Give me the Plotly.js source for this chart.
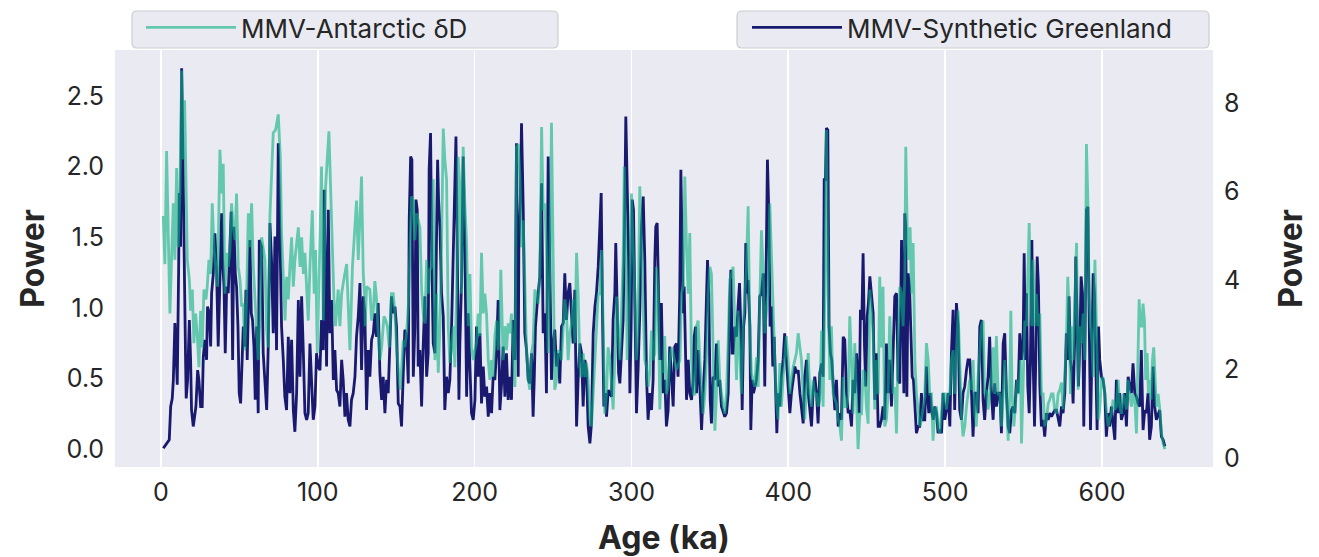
<!DOCTYPE html>
<html>
<head>
<meta charset="utf-8">
<script src="https://cdn.plot.ly/plotly-3.0.1.min.js"></script>
<style>html,body{margin:0;padding:0;background:#fff;}#chart{width:1319px;height:557px;}</style>
</head>
<body>
<div id="chart"></div>
<script>
// ---- Data ----
const antName = "MMV-Antarctic δD";
const grnName = "MMV-Synthetic Greenland";
const xTicks = [0, 100, 200, 300, 400, 500, 600];
const yLeftTicks = [0.0, 0.5, 1.0, 1.5, 2.0, 2.5];
const yRightTicks = [0, 2, 4, 6, 8];

const antAge = [1.5,2.5,3.6,4.7,5.7,7.0,7.9,8.9,10.0,11.0,12.1,13.2,14.2,15.1,15.9,16.8,18.1,18.9,20.0,21.0,22.1,23.2,24.2,25.3,26.3,27.4,28.7,29.5,30.6,31.7,32.7,33.8,34.8,36.1,37.6,38.7,39.7,40.8,41.9,42.9,44.0,45.0,46.1,47.2,48.2,49.3,50.4,51.4,52.5,53.5,54.6,55.7,56.7,57.8,58.9,59.9,61.0,62.0,63.1,
64.2,66.3,67.4,68.4,69.5,71.6,73.1,74.8,76.1,76.9,79.1,80.1,81.2,82.2,83.3,84.4,85.4,87.6,88.7,89.7,90.8,91.8,93.9,95.0,96.5,97.7,98.6,99.7,100.9,102.4,103.5,105.0,107.1,108.8,110.3,111.3,113.0,114.1,115.2,116.9,118.4,120.5,122.1,124.7,125.8,127.9,129.0,130.0,
130.2,131.1,133.2,134.3,135.4,136.4,137.5,138.5,139.6,140.7,142.2,143.4,144.3,145.6,147.0,148.1,149.2,150.2,151.3,152.4,153.4,154.5,155.5,156.6,157.7,158.7,159.8,160.9,161.9,163.0,164.0,165.1,166.2,167.2,168.3,169.4,170.4,171.5,172.5,173.6,174.7,175.7,176.8,177.9,178.9,180.0,181.0,182.1,183.2,184.2,185.3,186.4,187.4,188.5,189.5,190.6,191.7,192.7,193.8,194.9,195.9,197.0,
198.0,199.1,200.2,201.2,202.3,203.4,204.4,205.5,206.5,207.6,208.7,209.7,210.8,211.8,212.9,214.0,215.0,216.1,216.7,217.6,218.2,219.3,220.3,221.4,222.5,223.5,224.6,225.7,226.7,227.8,228.9,229.9,231.0,232.0,233.1,234.2,235.2,236.3,237.3,238.4,239.5,240.5,241.6,242.7,243.7,244.8,245.8,246.9,248.0,249.0,250.1,251.1,252.2,253.3,254.3,255.4,256.5,257.5,258.6,259.6,260.7,261.8,262.8,263.9,
265.0,266.0,267.1,268.2,269.2,270.3,271.3,272.4,273.5,274.5,275.6,276.7,277.7,278.8,279.8,280.9,282.0,283.0,284.1,285.1,286.2,287.3,288.3,289.4,290.5,291.5,292.6,293.6,294.7,295.4,296.4,297.3,297.9,299.0,300.0,301.1,302.2,303.2,304.3,305.3,306.4,307.5,308.5,309.6,310.6,311.7,312.8,313.8,314.9,315.9,317.0,318.1,319.1,320.2,321.2,322.3,323.4,324.4,325.5,326.5,328.7,330.9,
331.9,333.0,334.0,335.1,336.2,337.2,338.3,339.4,340.4,341.5,342.5,343.6,344.7,345.7,346.8,347.8,348.9,350.0,351.0,352.1,353.2,354.2,355.3,356.3,357.4,358.5,359.5,360.6,361.7,362.7,363.8,364.8,365.9,367.0,368.0,369.1,370.1,371.2,372.3,373.3,374.4,375.5,376.5,377.6,378.6,379.7,380.8,381.8,382.9,383.9,385.0,386.1,387.1,388.2,389.2,390.3,391.4,392.4,393.5,394.6,395.6,396.7,397.7,
398.8,399.9,401.0,402.0,403.1,404.2,405.2,406.3,407.4,408.4,409.5,410.5,411.6,412.7,413.7,414.8,415.8,416.9,418.0,419.0,420.1,421.2,422.2,423.3,424.3,425.4,426.5,427.5,428.6,429.7,430.7,431.8,432.9,433.9,435.0,436.0,437.1,438.2,439.2,440.3,441.3,442.4,443.5,444.5,445.6,446.7,447.7,448.8,449.8,450.9,452.0,453.0,454.1,455.1,456.2,457.3,458.3,459.4,460.4,461.5,462.6,463.6,464.7,
465.8,466.9,467.9,469.0,470.0,471.1,472.2,473.2,474.3,474.9,475.8,476.8,477.7,478.5,479.6,480.7,481.7,482.8,483.8,484.9,486.0,487.0,488.1,489.2,490.2,491.3,492.3,493.4,494.5,495.5,496.6,497.7,498.7,499.8,500.8,501.9,503.0,504.0,505.1,506.1,507.2,508.3,509.3,510.4,511.4,512.5,513.6,514.6,515.7,516.7,517.8,518.9,519.9,521.0,522.1,523.1,524.2,525.2,526.3,527.4,528.4,529.5,530.6,531.6,
532.7,533.8,534.9,535.9,537.0,538.0,539.1,540.2,541.2,541.9,542.7,543.8,544.8,545.9,547.0,548.0,548.7,549.7,550.8,551.9,552.7,553.6,554.4,555.3,556.1,557.2,558.2,559.3,560.4,561.4,562.5,563.5,564.6,565.7,566.7,567.8,568.8,569.9,571.0,572.0,573.1,574.2,575.2,576.3,577.3,578.2,579.0,579.9,580.8,581.6,582.7,583.8,584.8,585.9,587.0,588.0,589.1,590.1,591.0,591.8,592.7,593.6,594.4,595.5,596.5,597.6,598.6,
599.7,600.7,601.8,602.8,603.9,605.0,606.0,607.1,608.2,609.2,610.3,611.3,612.4,613.5,614.5,615.6,616.7,617.7,618.8,619.8,620.9,622.0,623.0,623.7,624.5,625.4,626.2,627.1,627.9,628.8,629.6,630.5,631.3,632.2,633.0,633.9,634.7,635.8,636.9,638.0,639.0,640.1];

const antPow = [1.65,1.31,2.11,1.57,0.96,1.43,1.74,1.34,1.99,1.43,1.81,2.68,2.05,2.47,1.81,1.34,1.20,0.98,1.13,0.75,0.96,0.80,0.58,0.98,0.72,1.13,1.06,1.15,1.34,1.24,1.74,1.43,1.29,1.15,2.12,1.81,2.02,1.10,1.39,1.29,1.41,1.74,1.57,1.48,1.81,1.29,1.20,1.01,1.03,0.70,1.06,1.67,1.43,1.74,1.29,1.10,0.82,0.63,0.92,
1.50,1.34,0.84,0.72,1.65,2.24,2.26,2.37,2.07,1.53,0.91,1.22,1.06,1.29,1.50,1.15,1.34,1.57,1.29,1.50,1.24,1.39,0.91,1.29,1.69,1.10,1.41,0.68,1.29,2.00,0.91,1.86,2.25,1.62,1.06,0.87,1.13,0.87,1.10,1.22,1.31,0.70,1.29,1.76,1.34,1.93,1.24,1.06,
0.87,1.15,1.13,0.91,0.98,1.19,1.06,0.82,0.63,0.72,0.94,0.91,0.87,0.72,1.10,1.10,0.96,0.72,0.58,0.42,0.56,0.77,0.72,0.82,1.01,1.34,1.79,1.76,1.48,1.67,1.62,1.57,1.13,0.96,0.89,1.34,1.10,1.27,1.29,1.91,0.63,1.10,0.54,0.87,1.43,2.27,2.05,1.91,0.87,0.61,0.72,0.87,0.58,1.10,2.07,1.86,1.10,2.14,1.72,1.46,0.87,1.24,
0.72,0.63,0.70,0.75,0.96,0.80,1.39,0.96,1.10,0.96,0.63,0.49,0.63,0.51,0.80,0.91,0.70,0.91,1.27,0.80,0.63,0.87,0.70,0.89,0.82,0.96,0.63,0.44,2.14,2.16,1.93,1.43,1.62,1.20,0.70,0.49,0.42,0.68,0.75,1.13,1.08,1.03,1.24,2.28,1.69,1.74,1.43,0.68,1.29,2.31,1.34,0.42,0.49,0.70,0.68,0.63,0.87,1.06,0.96,0.63,0.82,0.89,1.06,0.75,
1.39,1.10,0.58,0.51,0.68,0.51,0.61,0.49,0.21,0.16,0.39,0.63,0.91,1.10,1.10,1.41,0.87,0.25,0.39,0.72,0.65,0.49,0.28,0.63,1.08,0.84,0.63,0.96,1.34,2.00,1.48,0.63,0.75,1.15,1.81,1.43,1.10,0.63,0.91,1.86,1.39,1.10,0.63,0.58,0.44,0.54,0.84,0.63,0.68,1.29,1.10,0.28,0.63,0.54,0.80,0.39,0.44,0.63,0.72,0.68,0.56,0.63,
1.10,1.15,1.93,1.43,1.10,1.53,0.63,0.39,0.39,0.87,0.91,0.63,0.39,0.25,0.39,0.63,1.10,1.29,1.24,0.63,0.13,0.39,0.77,0.49,0.39,0.30,0.25,0.39,0.77,1.20,1.24,1.29,0.87,0.49,0.98,0.63,0.39,0.87,1.10,1.29,1.72,0.82,0.54,0.49,0.44,0.65,0.44,1.03,1.55,1.29,0.82,0.98,1.10,1.74,1.34,1.06,0.63,0.35,0.21,0.61,0.30,0.51,0.68,
0.80,0.63,0.39,0.49,0.58,0.63,0.68,0.82,0.72,0.63,0.39,0.21,0.44,0.68,0.39,0.30,0.49,0.39,0.39,0.30,0.35,0.84,0.30,1.10,2.26,1.10,0.49,0.87,0.39,0.35,0.32,0.21,0.16,0.06,0.51,0.30,0.30,0.39,0.94,0.63,0.25,0.75,0.30,0.00,0.25,0.25,0.56,0.54,0.30,0.18,1.13,0.94,0.82,0.28,0.63,0.39,1.22,0.72,1.15,0.16,0.21,0.39,0.94,
0.63,0.39,0.44,0.11,0.75,1.15,1.10,0.87,1.22,2.14,1.57,1.34,1.57,1.10,1.46,0.63,0.39,0.25,0.16,0.21,0.28,0.37,0.75,0.63,0.39,0.39,0.06,0.28,0.30,0.16,0.11,0.25,0.39,0.39,0.28,0.39,0.39,0.63,0.70,0.39,0.75,0.98,0.63,0.25,0.09,0.16,0.30,0.39,0.49,0.42,0.63,0.25,0.16,0.51,0.75,0.87,0.91,0.39,0.42,0.28,0.39,0.51,0.72,0.39,
0.80,0.39,0.39,0.16,0.39,0.63,0.39,0.06,0.39,0.98,0.39,0.16,0.30,0.49,0.39,0.63,0.04,0.49,0.91,0.87,1.34,1.60,1.10,0.87,1.34,0.87,1.10,0.87,0.96,0.39,0.39,0.16,0.21,0.32,0.35,0.39,0.39,0.28,0.25,0.39,0.42,0.47,0.28,0.49,0.75,1.22,0.98,0.39,0.87,0.63,1.06,1.46,0.42,0.87,0.75,0.96,0.63,2.16,1.76,1.10,0.87,0.75,0.51,1.34,0.87,0.21,0.28,
0.49,0.51,0.39,0.25,0.16,0.21,0.25,0.35,0.28,0.30,0.49,0.30,0.25,0.39,0.35,0.28,0.49,0.39,0.30,0.39,0.35,0.11,0.63,1.06,0.87,0.87,1.03,0.91,0.49,0.68,0.39,0.49,0.35,0.63,0.72,0.54,0.30,0.39,0.28,0.11,0.04,0.00];

const grnAge = [1.5,3.6,5.3,6.2,7.2,7.9,8.9,9.8,10.4,11.3,11.7,12.5,13.2,13.6,14.2,15.1,15.7,16.1,17.0,18.1,18.9,19.5,20.6,21.5,22.3,23.4,24.2,25.3,26.3,27.0,28.0,29.1,29.7,30.8,31.7,32.3,33.4,34.4,35.5,36.5,37.6,38.7,39.3,40.2,41.0,41.9,42.9,44.0,44.8,45.7,46.5,47.4,48.2,49.1,49.9,50.8,51.6,52.5,53.3,54.2,55.0,55.9,56.7,57.6,58.4,59.3,60.1,61.0,62.0,62.7,
64.2,65.2,66.3,67.4,68.4,69.5,70.5,71.6,72.7,73.7,74.8,75.9,76.9,78.0,79.0,80.1,81.2,82.2,83.3,84.4,85.4,86.5,87.6,88.6,89.7,90.8,91.8,92.9,93.9,95.0,96.0,97.1,98.2,99.2,100.3,101.4,102.4,103.5,104.1,105.0,105.6,106.7,107.7,108.8,109.9,110.9,112.0,113.0,114.1,115.2,116.2,117.3,118.3,119.4,120.5,121.5,122.6,123.7,124.7,125.8,126.9,127.9,129.0,130.0,
131.1,132.2,133.2,134.3,135.4,136.4,137.5,138.5,139.6,140.7,141.7,142.8,143.9,144.9,146.0,147.0,148.1,149.2,150.2,151.3,152.4,153.4,154.5,155.5,156.6,157.7,158.3,159.2,160.0,160.9,161.9,162.6,163.4,164.0,165.1,166.2,167.2,168.3,169.4,170.4,171.0,171.9,172.7,173.6,174.7,175.7,176.4,177.0,177.9,178.9,180.0,181.0,182.1,183.2,184.2,185.3,186.4,187.4,188.1,189.0,190.0,190.6,191.7,192.7,193.8,194.9,195.9,197.0,
198.0,199.1,200.2,201.2,202.3,203.4,204.4,205.5,206.5,207.6,208.7,209.7,210.8,211.8,212.9,214.0,215.0,216.1,217.1,218.2,219.3,220.3,221.4,222.5,223.5,224.6,225.7,226.7,227.8,228.2,229.1,229.9,231.0,232.0,233.1,234.2,235.2,236.3,237.3,238.0,238.8,240.1,241.6,242.7,243.7,244.8,245.8,246.9,248.0,249.0,250.1,251.1,252.2,253.3,254.3,255.4,256.5,257.5,258.6,259.6,260.7,261.8,262.8,263.9,
265.0,266.0,267.1,268.2,269.2,270.3,271.3,272.4,273.5,274.5,275.6,276.7,277.7,278.8,279.8,280.7,281.5,282.4,283.3,284.1,285.2,286.2,287.3,288.3,289.4,290.0,290.9,291.8,292.6,293.7,294.7,295.6,296.4,297.3,298.1,299.0,299.8,300.5,301.3,302.2,303.2,304.3,305.3,306.4,307.5,308.5,309.6,310.6,311.7,312.8,313.8,314.9,315.5,316.4,317.2,318.1,319.1,320.2,321.3,322.3,323.4,324.4,325.5,326.6,327.6,328.7,329.7,330.8,
331.5,332.4,333.0,333.6,334.5,335.1,336.2,337.2,338.3,339.4,340.0,340.9,341.5,342.5,343.6,344.7,345.7,346.8,347.8,348.5,349.3,350.2,351.0,352.1,353.2,354.2,355.3,356.3,357.4,358.5,359.5,360.6,361.7,362.7,363.4,364.2,364.8,365.9,367.0,368.0,368.9,369.8,370.6,371.5,372.3,372.9,373.8,374.4,375.5,376.1,377.0,377.8,378.7,379.7,380.8,381.8,382.9,384.0,385.0,385.9,386.7,387.6,388.4,389.3,390.1,391.0,391.8,392.7,393.5,394.6,395.6,396.7,397.7,
398.8,399.9,401.0,402.0,403.1,404.2,405.2,406.3,407.4,408.4,409.5,410.5,411.6,412.7,413.7,414.8,415.8,416.9,418.0,419.0,420.1,421.2,422.2,422.9,423.7,424.3,425.2,426.0,426.9,427.7,428.6,429.7,430.7,431.8,432.9,433.9,435.0,436.0,437.1,438.2,439.2,440.3,441.3,442.4,443.5,444.5,445.2,446.0,446.9,447.7,448.6,449.4,450.3,451.1,452.0,453.0,454.1,455.1,456.2,457.3,458.3,459.4,460.4,461.5,462.6,463.6,464.7,
465.8,466.9,467.9,469.0,470.0,471.1,472.2,472.8,473.7,474.3,474.9,475.6,476.4,477.3,478.1,479.0,479.8,480.7,481.7,482.8,483.8,484.9,486.0,487.0,488.1,488.7,489.6,490.4,491.3,492.4,493.4,494.5,495.5,496.6,497.7,498.7,499.8,500.8,501.9,503.0,504.0,505.1,506.1,507.2,508.3,509.3,510.4,511.4,512.5,513.6,514.6,515.7,516.7,517.8,518.9,519.9,521.0,522.1,523.1,524.2,525.2,526.3,527.4,528.4,529.5,530.6,531.6,
532.7,533.8,534.9,535.9,537.0,538.0,539.1,540.2,541.2,542.3,543.3,544.4,545.5,546.5,547.6,548.7,549.7,550.4,551.2,551.9,552.7,553.6,554.4,555.3,556.1,557.0,557.8,558.7,559.5,560.4,561.4,562.5,563.5,564.6,565.7,566.7,567.8,568.8,569.9,571.0,572.0,573.1,574.2,575.2,576.3,577.3,578.2,579.0,579.9,580.8,581.6,582.7,583.3,584.2,585.0,585.9,586.7,587.6,588.4,589.3,590.1,591.0,591.8,592.7,593.5,594.4,595.2,596.1,596.9,597.8,598.6,
599.7,600.7,601.8,602.8,603.9,605.0,606.0,607.1,608.2,609.2,610.3,611.3,612.4,613.5,614.5,615.6,616.7,617.7,618.8,619.8,620.9,622.0,623.0,624.1,625.1,626.2,627.3,628.3,629.4,630.4,631.5,632.6,633.6,634.7,635.8,636.8,637.9,639.0,640.1];

const grnPow = [0.22,0.33,0.41,1.16,1.34,1.76,3.04,2.21,1.65,4.31,5.97,4.76,8.78,7.84,5.51,3.79,2.21,1.34,1.76,3.11,2.21,1.08,0.71,1.01,1.16,1.98,1.76,1.16,1.16,2.28,2.66,2.21,3.41,3.26,2.51,3.71,4.16,5.06,4.16,2.51,4.31,5.51,4.46,3.86,2.36,3.86,3.71,5.06,5.55,2.21,5.21,4.16,3.86,2.96,1.46,1.23,2.21,2.96,2.51,3.79,2.21,3.79,4.91,3.26,3.11,2.51,1.31,2.96,1.01,4.91,
4.76,2.36,1.76,1.08,2.51,5.29,4.46,2.81,4.99,2.43,7.09,5.21,2.96,2.21,1.38,1.08,2.73,1.46,2.66,1.08,0.59,1.46,3.56,1.83,3.64,2.36,1.01,0.86,1.01,2.58,1.76,0.86,1.16,2.36,2.06,1.98,3.11,2.43,6.04,3.04,2.06,5.59,2.81,3.56,1.76,2.43,1.53,1.46,1.16,2.21,1.76,0.93,1.46,0.86,0.71,1.31,1.46,1.83,2.73,3.19,3.94,1.98,3.64,3.26,
1.08,2.43,1.83,2.66,2.81,3.26,2.73,3.49,1.91,1.31,1.83,1.01,1.76,1.46,2.43,3.64,3.26,3.41,2.96,1.23,1.16,0.71,1.91,2.89,2.73,1.68,5.36,6.79,6.72,1.83,2.96,5.82,5.59,2.06,2.43,1.16,2.51,3.64,1.83,2.36,6.49,7.32,4.46,2.58,2.36,4.46,6.72,5.82,5.21,3.71,3.19,1.08,1.83,1.46,1.76,2.96,4.46,5.74,7.24,4.46,1.31,2.58,4.01,6.79,4.76,1.38,3.26,2.06,
1.01,0.86,1.31,2.96,1.83,2.81,1.23,2.06,1.38,1.61,0.93,1.46,1.01,1.83,1.76,2.43,3.56,1.08,1.61,2.51,1.38,2.36,1.31,1.83,1.31,3.11,2.21,7.09,1.83,4.69,5.74,7.54,5.59,2.81,2.43,1.76,1.68,2.36,0.93,1.76,2.96,3.56,4.09,6.19,2.81,3.26,1.46,6.79,3.71,1.76,2.58,2.89,2.06,2.36,1.68,2.96,3.04,4.16,3.11,3.71,3.94,3.26,2.58,3.79,
0.71,1.76,2.58,2.36,1.16,2.21,1.98,0.71,0.33,0.78,2.81,3.41,3.71,4.31,5.06,5.97,3.34,1.16,1.46,0.93,1.53,1.46,1.38,3.11,3.71,4.84,3.26,1.91,1.68,2.43,3.11,5.21,7.69,6.12,4.61,1.46,2.96,5.82,5.59,3.41,1.01,2.06,3.26,5.21,5.89,4.46,1.83,0.86,1.46,1.08,1.76,4.46,5.21,5.29,3.34,2.21,3.49,1.46,1.76,0.71,1.08,2.51,1.83,1.16,2.51,2.58,1.83,3.71,
6.49,3.71,3.26,3.86,2.21,1.31,2.21,1.46,1.31,1.76,2.73,2.96,1.46,2.43,1.61,0.63,1.46,2.21,3.56,4.46,3.71,1.31,0.78,1.83,1.76,2.58,1.61,1.76,1.16,1.01,0.93,1.01,1.46,3.56,4.24,2.36,2.36,2.96,2.73,3.41,3.94,2.81,1.08,2.96,3.26,4.84,3.71,4.01,2.96,0.63,1.76,1.46,1.61,1.76,2.21,3.64,3.71,4.16,1.61,4.16,6.72,5.51,2.96,3.41,2.06,2.73,1.46,0.56,1.46,1.16,1.83,2.21,2.81,
2.21,1.46,1.01,1.46,1.76,2.06,1.91,1.98,1.46,1.16,0.78,1.83,2.21,1.46,1.08,0.71,1.46,1.83,1.46,0.78,1.91,2.13,1.83,6.27,6.27,7.43,7.39,2.96,2.36,2.21,1.68,1.08,1.76,0.71,1.01,0.86,2.73,2.66,1.46,1.01,1.08,0.71,1.76,1.46,2.36,1.76,1.01,3.34,3.11,4.61,2.51,1.61,3.19,3.49,4.09,3.71,3.26,1.31,2.36,0.71,0.71,0.86,1.16,0.86,2.58,1.46,2.21,
1.16,2.51,3.64,3.71,1.76,1.68,4.91,3.71,1.46,5.51,5.21,1.38,4.16,3.86,2.58,1.83,1.76,1.01,0.56,0.71,0.71,1.46,0.86,0.86,2.06,1.46,1.01,1.46,1.08,0.86,1.16,1.01,0.56,0.63,0.56,1.46,0.86,1.08,1.46,0.71,2.36,3.34,1.08,3.49,2.96,1.08,0.86,1.46,1.61,1.98,2.21,2.21,1.61,0.48,1.46,1.46,1.01,2.96,3.11,1.31,0.86,1.46,1.83,2.73,1.46,0.86,1.68,
1.16,1.46,1.46,0.56,2.58,2.81,1.46,0.71,0.56,1.08,1.16,1.01,1.76,1.46,2.81,2.21,2.51,4.61,2.21,3.71,1.61,1.01,2.21,4.91,2.21,0.71,2.21,4.54,3.86,1.61,0.71,0.86,0.48,1.01,0.86,1.01,0.93,1.01,1.08,1.08,0.86,0.71,1.16,1.01,1.46,2.81,2.21,3.64,2.21,1.91,1.23,2.81,4.54,2.96,1.61,2.58,4.09,3.71,0.71,2.96,5.59,5.66,3.34,0.63,2.21,4.16,3.71,2.21,0.63,2.96,2.21,
1.83,1.76,1.46,0.48,1.01,0.71,1.16,0.71,0.41,1.76,1.01,1.46,0.86,1.01,1.46,0.71,1.83,1.61,1.46,2.13,1.46,1.38,1.23,1.16,2.43,0.63,1.08,1.01,1.46,0.41,0.71,2.06,1.16,0.86,1.01,1.08,0.48,0.41,0.26];

// ---- Chart ----
const FONT = "Inter, 'Noto Sans', sans-serif";
const TXT = "#262626";

const traces = [
  {
    x: grnAge, y: grnPow, name: grnName, type: "scatter", mode: "lines",
    yaxis: "y", legend: "legend2",
    line: {color: "#191970", width: 2.8}, hoverinfo: "skip"
  },
  {
    x: antAge, y: antPow, name: antName, type: "scatter", mode: "lines",
    yaxis: "y2", legend: "legend",
    line: {color: "rgba(10,177,130,0.6)", width: 2.8}, hoverinfo: "skip"
  }
];

// legend frames (paper coordinates of the plot area: x 115..1213 px, y 50..467 px)
function px2x(p) { return (p - 115) / 1098; }
function px2y(p) { return 1 + (50 - p) / 417; }
function roundRect(x0, x1, y0, y1, r) {
  const rx = r / 1098, ry = r / 417;
  const X0 = px2x(x0), X1 = px2x(x1), Yt = px2y(y0), Yb = px2y(y1);
  return "M" + (X0 + rx) + "," + Yt + " L" + (X1 - rx) + "," + Yt +
    " Q" + X1 + "," + Yt + " " + X1 + "," + (Yt - ry) +
    " L" + X1 + "," + (Yb + ry) + " Q" + X1 + "," + Yb + " " + (X1 - rx) + "," + Yb +
    " L" + (X0 + rx) + "," + Yb + " Q" + X0 + "," + Yb + " " + X0 + "," + (Yb + ry) +
    " L" + X0 + "," + (Yt - ry) + " Q" + X0 + "," + Yt + " " + (X0 + rx) + "," + Yt + " Z";
}
const frameStyle = {type: "path", xref: "paper", yref: "paper", fillcolor: "#EAEAF2",
  line: {color: "#CCCCD2", width: 1.2}, layer: "above"};

const legendCommon = {
  orientation: "h", yanchor: "middle", y: px2y(27.5), xanchor: "left",
  bgcolor: "rgba(0,0,0,0)", borderwidth: 0,
  font: {family: FONT, size: 26, color: TXT}, itemwidth: 90
};

const layout = {
  width: 1319, height: 557,
  paper_bgcolor: "#FFFFFF", plot_bgcolor: "#EAEAF2",
  margin: {l: 115, r: 106, t: 50, b: 90, autoexpand: false},
  showlegend: true,
  font: {family: FONT, color: TXT},
  legend: Object.assign({}, legendCommon, {x: px2x(141)}),
  legend2: Object.assign({}, legendCommon, {x: px2x(747)}),
  shapes: [
    Object.assign({}, frameStyle, {path: roundRect(132, 558, 11, 48, 5)}),
    Object.assign({}, frameStyle, {path: roundRect(737, 1209, 11, 48, 5)})
  ],
  xaxis: {
    range: [-29.3, 670.8], tickvals: xTicks, ticktext: xTicks.map(String),
    showgrid: true, gridcolor: "#FFFFFF", gridwidth: 1.6, zeroline: false,
    showline: false, ticks: "", ticklabelstandoff: 8,
    tickfont: {family: FONT, size: 25, color: TXT},
    title: {text: "<b>Age (ka)</b>", font: {family: FONT, size: 32, color: TXT}, standoff: 22}
  },
  yaxis: {
    side: "right", range: [-0.203, 9.19], tickvals: yRightTicks, ticktext: yRightTicks.map(String),
    showgrid: false, zeroline: false, showline: false, ticks: "", ticklabelstandoff: 10,
    tickfont: {family: FONT, size: 25, color: TXT},
    title: {text: "<b>Power</b>", font: {family: FONT, size: 32, color: TXT}, standoff: 40}
  },
  yaxis2: {
    overlaying: "y", side: "left", range: [-0.127, 2.826],
    tickvals: yLeftTicks, ticktext: yLeftTicks.map(v => v.toFixed(1)),
    showgrid: false, zeroline: false, showline: false, ticks: "", ticklabelstandoff: 10,
    tickfont: {family: FONT, size: 25, color: TXT},
    title: {text: "<b>Power</b>", font: {family: FONT, size: 32, color: TXT}, standoff: 12}
  },
  hovermode: false
};

Plotly.newPlot("chart", traces, layout, {staticPlot: true, displayModeBar: false});
</script>
</body>
</html>
